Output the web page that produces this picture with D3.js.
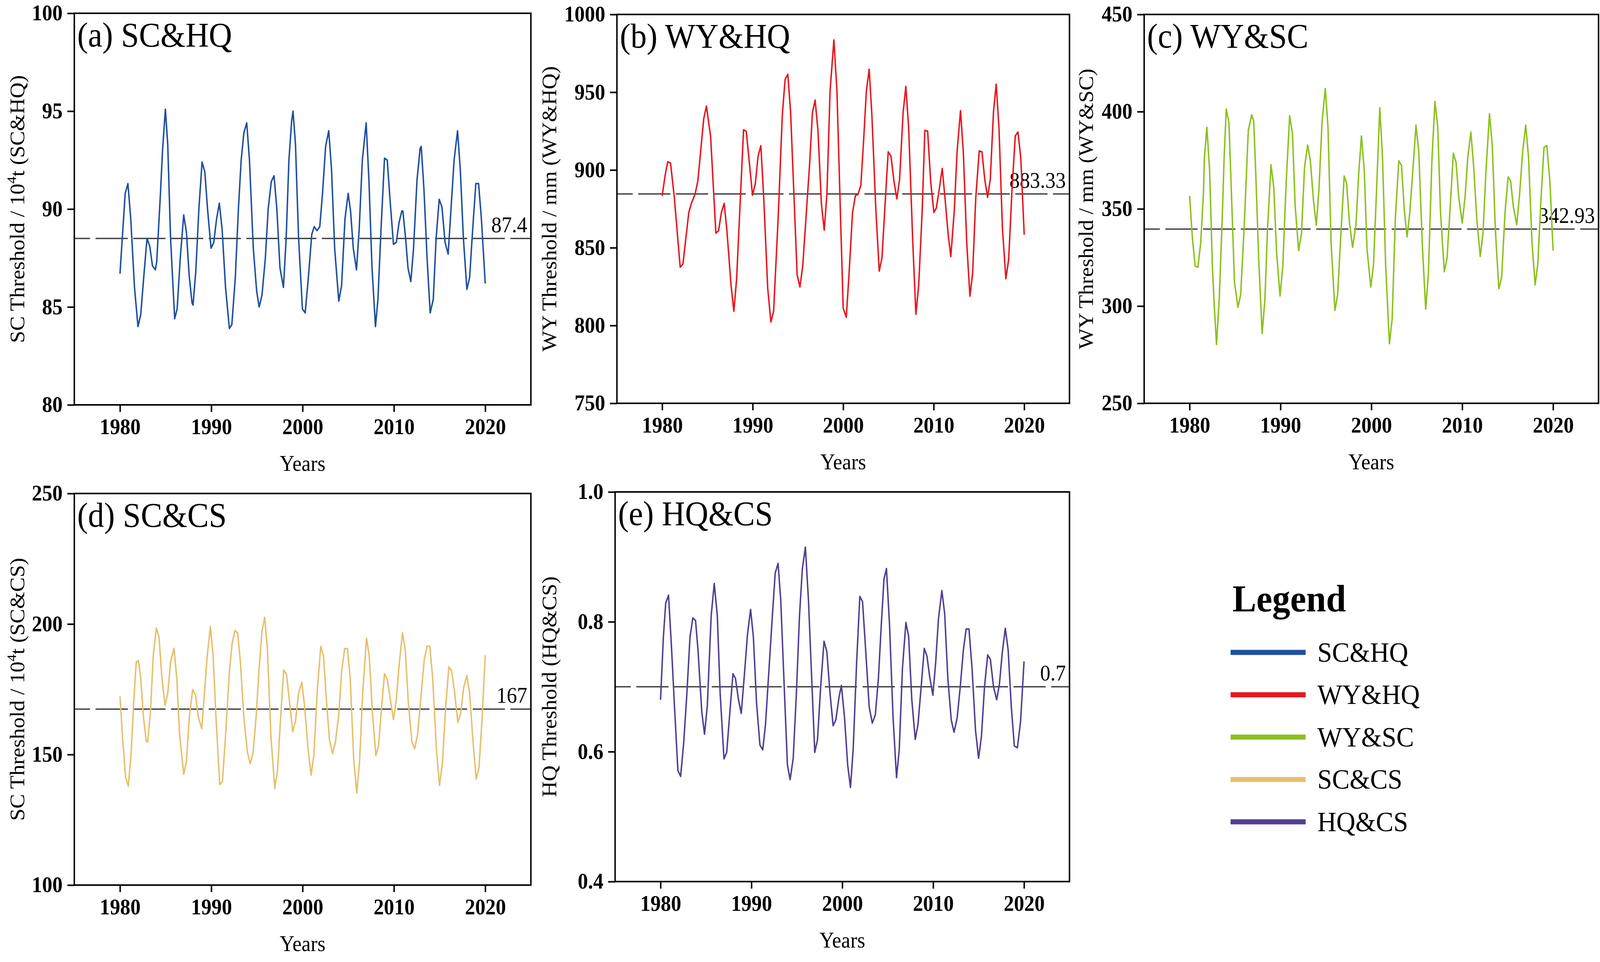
<!DOCTYPE html>
<html>
<head>
<meta charset="utf-8">
<script src="https://cdn.jsdelivr.net/npm/d3@7"></script>
<style>
  html, body { margin: 0; padding: 0; background: #fff; width: 100%; height: 100%; overflow: hidden; }
  svg { display: block; width: 100vw; height: 100vh; font-family: "Liberation Serif", "Times New Roman", serif; }
</style>
</head>
<body>
<svg id="chart" viewBox="0 0 4370 2464" preserveAspectRatio="none"></svg>
<script>
// values, [year, threshold]
var scHq = [[1980.0,86.7],[1980.57,90.8],[1980.87,91.3],[1981.18,89.5],[1981.59,86.0],[1981.97,84.0],[1982.27,84.6],[1982.65,86.8],[1982.96,88.5],[1983.26,88.1],[1983.56,87.1],[1983.87,86.9],[1984.02,87.3],[1984.40,90.5],[1984.66,93.0],[1984.97,95.1],[1985.23,93.3],[1985.54,88.5],[1985.99,84.4],[1986.26,84.9],[1986.60,87.5],[1986.98,89.7],[1987.28,88.8],[1987.58,86.6],[1987.89,85.2],[1988.0,85.1],[1988.30,86.8],[1988.64,90.0],[1988.99,92.4],[1989.29,91.9],[1989.59,90.0],[1989.97,88.0],[1990.27,88.3],[1990.58,89.5],[1990.88,90.3],[1991.18,89.0],[1991.56,86.0],[1991.98,83.9],[1992.25,84.1],[1992.63,86.5],[1992.97,90.0],[1993.27,92.5],[1993.57,93.9],[1993.88,94.4],[1994.18,92.5],[1994.60,88.0],[1994.97,85.8],[1995.24,85.0],[1995.55,85.6],[1995.92,87.5],[1996.23,90.0],[1996.57,91.4],[1996.87,91.7],[1997.18,90.0],[1997.52,87.0],[1997.90,86.0],[1998.20,88.5],[1998.50,92.5],[1998.80,94.5],[1998.95,95.0],[1999.22,93.3],[1999.56,88.5],[1999.98,84.9],[2000.28,84.7],[2000.63,86.5],[2001.00,88.7],[2001.27,89.1],[2001.57,88.9],[2001.88,89.1],[2002.18,90.8],[2002.52,93.2],[2002.86,94.0],[2003.17,92.0],[2003.51,88.0],[2003.96,85.3],[2004.27,86.1],[2004.64,89.5],[2004.99,90.8],[2005.25,89.9],[2005.55,88.0],[2005.90,86.9],[2006.20,89.0],[2006.54,92.5],[2006.96,94.4],[2007.26,91.5],[2007.60,87.0],[2007.98,84.0],[2008.25,85.4],[2008.59,89.0],[2008.97,92.6],[2009.27,92.5],[2009.57,90.5],[2009.95,88.2],[2010.26,88.3],[2010.56,89.3],[2010.86,89.9],[2010.98,89.9],[2011.28,88.5],[2011.54,87.0],[2011.85,86.3],[2012.15,88.0],[2012.53,91.5],[2012.87,93.1],[2012.99,93.2],[2013.29,91.0],[2013.63,87.5],[2013.97,84.7],[2014.31,85.4],[2014.62,88.5],[2014.96,90.5],[2015.26,90.1],[2015.60,88.3],[2015.94,87.7],[2016.25,90.0],[2016.59,92.5],[2016.97,94.0],[2017.27,92.0],[2017.61,88.5],[2017.99,85.9],[2018.29,86.5],[2018.63,89.0],[2018.97,91.3],[2019.27,91.3],[2019.58,89.5],[2020.0,86.2]];

var wyHq = [[1980.0,883.4],[1980.31,896],[1980.61,905.3],[1980.92,904.5],[1981.34,882.4],[1981.99,837.5],[1982.29,839.5],[1982.94,872.7],[1983.25,879],[1983.63,884.4],[1983.94,893],[1984.59,933],[1984.89,941],[1985.35,921.5],[1985.93,859.4],[1986.23,861],[1986.54,872.7],[1986.85,878.5],[1987.15,861],[1987.61,825.8],[1987.92,809.2],[1988.22,829.7],[1988.99,925.8],[1989.29,924.8],[1989.98,883.8],[1990.29,891.2],[1990.59,908.8],[1990.90,915.6],[1991.20,884.4],[1991.66,823.8],[1992.01,802.3],[1992.31,809.2],[1992.81,868.8],[1993.27,935.2],[1993.58,958.2],[1993.88,961.5],[1994.19,937],[1994.91,832.6],[1995.22,824.8],[1995.53,838.5],[1996.29,903.9],[1996.60,937],[1996.90,944.9],[1997.21,925.4],[1997.59,878.5],[1997.90,861.3],[1998.20,884.4],[1998.55,950.8],[1998.97,983.6],[1999.31,950.8],[1999.69,872.7],[2000.0,811.1],[2000.34,805.3],[2000.65,833.6],[2001.03,872.7],[2001.34,883.4],[2001.64,884.4],[2001.95,890.2],[2002.26,919.5],[2002.56,950.8],[2002.87,964.8],[2003.17,935.2],[2003.59,876.6],[2003.98,835],[2004.28,843.4],[2004.97,911.7],[2005.28,908.8],[2005.62,892.2],[2005.93,881.4],[2006.23,894],[2006.62,937],[2006.92,953.7],[2007.23,927.3],[2007.69,853.1],[2008.03,807.2],[2008.34,825.8],[2008.72,872.7],[2009.02,925.4],[2009.33,925],[2009.67,892.2],[2010.02,872.7],[2010.29,875.6],[2010.63,888.3],[2010.94,901],[2011.24,882.4],[2011.59,859],[2011.89,844.3],[2012.28,874.6],[2012.58,911.7],[2012.96,938.1],[2013.27,911.7],[2013.65,853.1],[2014.00,818.9],[2014.30,833.6],[2014.65,882.4],[2015.03,912.3],[2015.33,911.7],[2015.64,894],[2015.95,882.4],[2016.25,894],[2016.60,937],[2016.90,955.1],[2017.21,927.3],[2017.59,862.9],[2017.97,830.1],[2018.28,842.4],[2018.66,888.3],[2019.01,921.9],[2019.31,924.4],[2019.62,907.8],[2020.0,858.4]];

var wySc = [[1980.0,356.7],[1980.30,335.6],[1980.61,320.5],[1980.91,320],[1981.22,332.5],[1981.52,357.5],[1981.63,376.3],[1981.90,391.9],[1982.20,370],[1982.51,320],[1982.70,301.3],[1982.96,280.2],[1983.27,304.4],[1983.61,348.1],[1983.80,376.3],[1984.03,401.3],[1984.33,394.2],[1984.56,363.8],[1984.94,312.2],[1985.32,299.4],[1985.62,305.9],[1986.0,340.3],[1986.46,390.3],[1986.84,398.4],[1987.06,395],[1987.29,366.9],[1987.60,324.7],[1987.98,285.9],[1988.28,302.8],[1988.58,340.3],[1988.96,372.7],[1989.27,360.6],[1989.57,327.8],[1989.95,305.2],[1990.25,320],[1990.63,363.8],[1991.01,397.8],[1991.32,388.8],[1991.62,351.3],[1992.0,328.6],[1992.31,337.2],[1992.65,371.6],[1992.99,382.8],[1993.29,374.7],[1993.63,354.4],[1993.94,341.6],[1994.24,360.6],[1994.58,395],[1994.93,411.9],[1995.23,391.9],[1995.57,332.5],[1995.99,297.8],[1996.29,305.9],[1996.63,335.6],[1997.01,366.9],[1997.28,363],[1997.58,343.4],[1997.93,330.2],[1998.31,341.9],[1998.61,368.4],[1998.91,387.5],[1999.22,370],[1999.52,329.4],[1999.94,309.8],[2000.24,321.6],[2000.58,360.6],[2000.93,402],[2001.23,376.3],[2001.57,321.6],[2001.99,280.6],[2002.29,293.4],[2002.64,345],[2003.02,374.7],[2003.32,372.3],[2003.62,349.7],[2003.93,335.6],[2004.23,348.1],[2004.57,370],[2004.91,393],[2005.22,379.4],[2005.60,332.5],[2005.98,298.4],[2006.28,316.9],[2006.66,374.7],[2007.00,405.2],[2007.31,391.9],[2007.61,348.1],[2008.03,317.7],[2008.33,324.7],[2008.64,348.1],[2009.02,378.6],[2009.32,373.9],[2009.62,355.9],[2010.0,342.7],[2010.31,355.9],[2010.61,376.3],[2010.95,389.5],[2011.26,371.6],[2011.60,345],[2011.98,325.5],[2012.28,337.2],[2012.62,370],[2013.00,398.9],[2013.31,382.5],[2013.65,338.8],[2014.03,309],[2014.33,314.5],[2014.71,348.1],[2015.05,366.4],[2015.32,364.5],[2015.62,351.3],[2016.0,341.9],[2016.31,357.5],[2016.65,379.4],[2016.99,393.1],[2017.30,376.3],[2017.68,332.5],[2018.02,310.9],[2018.32,321.6],[2018.66,354.4],[2019.0,381.7],[2019.31,382.5],[2019.65,363.8],[2020.0,328.6]];

var scCs = [[1980.0,172.3],[1980.30,155.7],[1980.61,141.5],[1980.91,137.9],[1981.21,149.8],[1981.52,171.1],[1981.78,185.4],[1982.01,186],[1982.27,179.4],[1982.58,164],[1982.88,155.1],[1983.03,154.8],[1983.34,166.4],[1983.64,187.7],[1983.98,198.4],[1984.28,194.9],[1984.59,179.4],[1984.93,168.8],[1985.23,173.5],[1985.54,185.4],[1985.91,190.7],[1986.22,179.4],[1986.52,158.1],[1986.98,142.4],[1987.28,147.4],[1987.58,164],[1987.96,174.9],[1988.27,172.9],[1988.57,164.6],[1988.95,159.9],[1989.25,173.5],[1989.55,187.7],[1989.90,199],[1990.20,187.7],[1990.50,165.2],[1990.92,138.5],[1991.22,139.7],[1991.60,159.3],[1991.98,181.8],[1992.28,192.5],[1992.59,197.5],[1992.89,196.6],[1993.19,185.4],[1993.57,164],[1993.95,151],[1994.26,146.5],[1994.56,150.4],[1994.90,164],[1995.24,183],[1995.55,197.2],[1995.85,202.6],[1996.15,190.1],[1996.53,156.9],[1996.95,137],[1997.25,143.9],[1997.59,164],[1997.93,182.4],[1998.24,180.6],[1998.54,171.1],[1998.92,158.7],[1999.22,162.8],[1999.56,173.5],[1999.91,177.7],[2000.21,168.8],[2000.59,152.2],[2000.93,142.1],[2001.23,149.8],[2001.61,174.7],[2001.99,191.5],[2002.29,187.7],[2002.60,171.1],[2002.94,155.7],[2003.28,150.4],[2003.58,154.5],[2003.96,165.2],[2004.27,181.8],[2004.61,190.6],[2004.91,190.6],[2005.21,179.4],[2005.59,148.6],[2005.93,135.3],[2006.24,147.4],[2006.58,173.5],[2007.0,194.6],[2007.30,187.7],[2007.64,166.4],[2008.02,149.6],[2008.32,153.4],[2008.66,168.8],[2008.97,181],[2009.27,178.9],[2009.61,171.1],[2009.95,163.4],[2010.26,171.1],[2010.60,185.4],[2010.94,196.6],[2011.24,190.1],[2011.58,170],[2011.96,155.1],[2012.27,152.2],[2012.61,158.1],[2012.99,173.5],[2013.33,186.6],[2013.63,191.5],[2013.93,191.5],[2014.24,179.4],[2014.65,152.2],[2014.99,138.2],[2015.30,146.2],[2015.68,168.8],[2016.02,183.6],[2016.32,182],[2016.66,173.5],[2017.0,162.3],[2017.31,165.8],[2017.65,175.9],[2017.99,180.3],[2018.29,173.5],[2018.67,154.5],[2019.01,140.6],[2019.32,145.1],[2019.66,164],[2020.0,188.1]];

var hqCs = [[1980.0,0.680],[1980.31,0.776],[1980.57,0.829],[1980.88,0.841],[1981.22,0.757],[1981.53,0.671],[1981.91,0.571],[1982.21,0.562],[1982.55,0.614],[1982.90,0.690],[1983.24,0.776],[1983.55,0.806],[1983.85,0.802],[1984.12,0.757],[1984.54,0.661],[1984.84,0.627],[1985.15,0.671],[1985.57,0.809],[1985.91,0.859],[1986.25,0.809],[1986.56,0.690],[1986.98,0.589],[1987.28,0.599],[1987.63,0.661],[1987.97,0.720],[1988.24,0.713],[1988.58,0.680],[1988.88,0.659],[1989.23,0.719],[1989.57,0.781],[1989.91,0.819],[1990.22,0.776],[1990.56,0.676],[1990.94,0.610],[1991.25,0.603],[1991.55,0.642],[1991.94,0.728],[1992.28,0.804],[1992.62,0.875],[1992.93,0.890],[1993.23,0.833],[1993.61,0.700],[1993.96,0.580],[1994.26,0.557],[1994.60,0.590],[1994.95,0.690],[1995.29,0.809],[1995.60,0.881],[1995.94,0.915],[1996.28,0.833],[1996.63,0.714],[1996.97,0.599],[1997.27,0.618],[1997.62,0.700],[1997.99,0.770],[1998.30,0.754],[1998.65,0.690],[1998.99,0.640],[1999.29,0.649],[1999.64,0.684],[1999.90,0.702],[2000.25,0.652],[2000.59,0.580],[2000.90,0.545],[2001.20,0.604],[2001.58,0.738],[2001.93,0.839],[2002.23,0.831],[2002.57,0.757],[2002.96,0.669],[2003.30,0.644],[2003.64,0.657],[2003.98,0.714],[2004.29,0.795],[2004.59,0.866],[2004.86,0.882],[2005.20,0.795],[2005.59,0.652],[2005.97,0.560],[2006.27,0.604],[2006.62,0.728],[2007.0,0.799],[2007.30,0.778],[2007.65,0.680],[2008.03,0.619],[2008.33,0.642],[2008.68,0.700],[2009.02,0.759],[2009.32,0.747],[2009.63,0.714],[2009.97,0.687],[2010.28,0.738],[2010.58,0.804],[2010.96,0.848],[2011.27,0.812],[2011.61,0.714],[2011.99,0.649],[2012.30,0.630],[2012.64,0.652],[2012.98,0.700],[2013.33,0.757],[2013.63,0.789],[2013.94,0.789],[2014.28,0.728],[2014.66,0.633],[2015.00,0.590],[2015.31,0.623],[2015.65,0.700],[2016.0,0.749],[2016.30,0.742],[2016.64,0.700],[2016.99,0.680],[2017.29,0.704],[2017.60,0.752],[2017.94,0.790],[2018.25,0.757],[2018.59,0.671],[2018.93,0.609],[2019.27,0.606],[2019.62,0.647],[2020.0,0.739]];

var seriesNames = ["SC&HQ", "WY&HQ", "WY&SC", "SC&CS", "HQ&CS"];
var seriesColors = ["#1f4f9f", "#e8171f", "#8cc11f", "#e6c06d", "#533e93"];

var xTicks = [1980, 1990, 2000, 2010, 2020];
var aTicks = [80, 85, 90, 95, 100];
var bTicks = [750, 800, 850, 900, 950, 1000];
var cTicks = [250, 300, 350, 400, 450];
var dTicks = [100, 150, 200, 250];
var eTicks = [0.4, 0.6, 0.8, 1.0];

var thresholdLevels = [88.5, 884.6, 339.6, 167.4, 0.70];
var thresholdLabels = ["87.4", "883.33", "342.93", "167", "0.7"];

var svg = d3.select("#chart");
svg.append("rect").attr("width", 4370).attr("height", 2464).attr("fill", "#fff");

var panels = [
  {data: scHq, ticks: aTicks, fmt: d3.format("d"), title: "(a) SC&HQ", yl: ["SC Threshold / 10", "4", "t (SC&HQ)"],
   box: {l: 203, r: 1450, t: 34, b: 1037}, ylx: 66},
  {data: wyHq, ticks: bTicks, fmt: d3.format("d"), title: "(b) WY&HQ", yl: ["WY Threshold / mm (WY&HQ)"],
   box: {l: 1685, r: 2921, t: 37, b: 1033}, ylx: 1519},
  {data: wySc, ticks: cTicks, fmt: d3.format("d"), title: "(c) WY&SC", yl: ["WY Threshold / mm (WY&SC)"],
   box: {l: 3125, r: 4366, t: 37, b: 1033}, ylx: 2985},
  {data: scCs, ticks: dTicks, fmt: d3.format("d"), title: "(d) SC&CS", yl: ["SC Threshold / 10", "4", "t (SC&CS)"],
   box: {l: 203, r: 1450, t: 1264, b: 2267}, ylx: 66},
  {data: hqCs, ticks: eTicks, fmt: d3.format(".1f"), title: "(e) HQ&CS", yl: ["HQ Threshold (HQ&CS)"],
   box: {l: 1680, r: 2921, t: 1260, b: 2258}, ylx: 1519}
];

panels.forEach(function(p, i) {
  var b = p.box;
  var x = d3.scaleLinear().domain([1975, 2025]).range([b.l, b.r]);
  var y = d3.scaleLinear().domain(d3.extent(p.ticks)).range([b.b, b.t]);
  var g = svg.append("g");

  // threshold line
  var thr = thresholdLevels[i];
  g.append("line")
    .attr("x1", b.l).attr("x2", b.r)
    .attr("y1", y(thr)).attr("y2", y(thr))
    .attr("stroke", "#444").attr("stroke-width", 3.5)
    .attr("stroke-dasharray", "88 15").attr("stroke-dashoffset", 45);
  g.append("text")
    .attr("x", b.r - 10).attr("y", y(thr) - 16)
    .attr("text-anchor", "end").attr("font-size", 56)
    .text(thresholdLabels[i]);

  // series
  var line = d3.line().x(function(d) { return x(d[0]); }).y(function(d) { return y(d[1]); });
  g.append("path").datum(p.data)
    .attr("d", line)
    .attr("fill", "none")
    .attr("stroke", seriesColors[i])
    .attr("stroke-width", 4)
    .attr("stroke-linejoin", "round");

  // axes
  var xa = g.append("g").attr("transform", "translate(0," + b.b + ")")
    .call(d3.axisBottom(x).tickValues(xTicks).tickFormat(d3.format("d")).tickSize(18).tickSizeOuter(0).tickPadding(17));
  var ya = g.append("g").attr("transform", "translate(" + b.l + ",0)")
    .call(d3.axisLeft(y).tickValues(p.ticks).tickFormat(p.fmt).tickSize(19).tickSizeOuter(0).tickPadding(13));
  [xa, ya].forEach(function(a) {
    a.select(".domain").remove();
    a.selectAll(".tick line").attr("stroke", "#000").attr("stroke-width", 4);
    a.selectAll(".tick text").attr("font-size", 56).attr("font-weight", "bold")
      .attr("font-family", "Liberation Serif, Times New Roman, serif").attr("fill", "#000");
  });

  // frame
  g.append("rect")
    .attr("x", b.l).attr("y", b.t)
    .attr("width", b.r - b.l).attr("height", b.b - b.t)
    .attr("fill", "none").attr("stroke", "#000").attr("stroke-width", 4);

  // titles
  g.append("text")
    .attr("x", b.l + 8).attr("y", b.t + 85)
    .attr("font-size", 88)
    .text(p.title);

  g.append("text")
    .attr("x", (b.l + b.r) / 2).attr("y", b.b + 169)
    .attr("text-anchor", "middle").attr("font-size", 56)
    .text("Years");

  var yl = g.append("text")
    .attr("transform", "translate(" + p.ylx + "," + ((b.t + b.b) / 2) + ") rotate(-90)")
    .attr("text-anchor", "middle").attr("font-size", 56);
  yl.append("tspan").text(p.yl[0]);
  if (p.yl.length > 1) {
    yl.append("tspan").attr("font-size", 36).attr("dy", -22).text(p.yl[1]);
    yl.append("tspan").attr("dy", 22).text(p.yl[2]);
  }
});

// legend
var lg = svg.append("g");
lg.append("text")
  .attr("x", 3366).attr("y", 1566)
  .attr("font-size", 98).attr("font-weight", "bold")
  .text("Legend");

var ly = d3.scalePoint().domain(seriesNames).range([1671, 2105]);
seriesNames.forEach(function(name, i) {
  lg.append("line")
    .attr("x1", 3361).attr("x2", 3566)
    .attr("y1", ly(name)).attr("y2", ly(name))
    .attr("stroke", seriesColors[i]).attr("stroke-width", 13);
  lg.append("text")
    .attr("x", 3598).attr("y", ly(name) + 24)
    .attr("font-size", 72)
    .text(name);
});
</script>
</body>
</html>
